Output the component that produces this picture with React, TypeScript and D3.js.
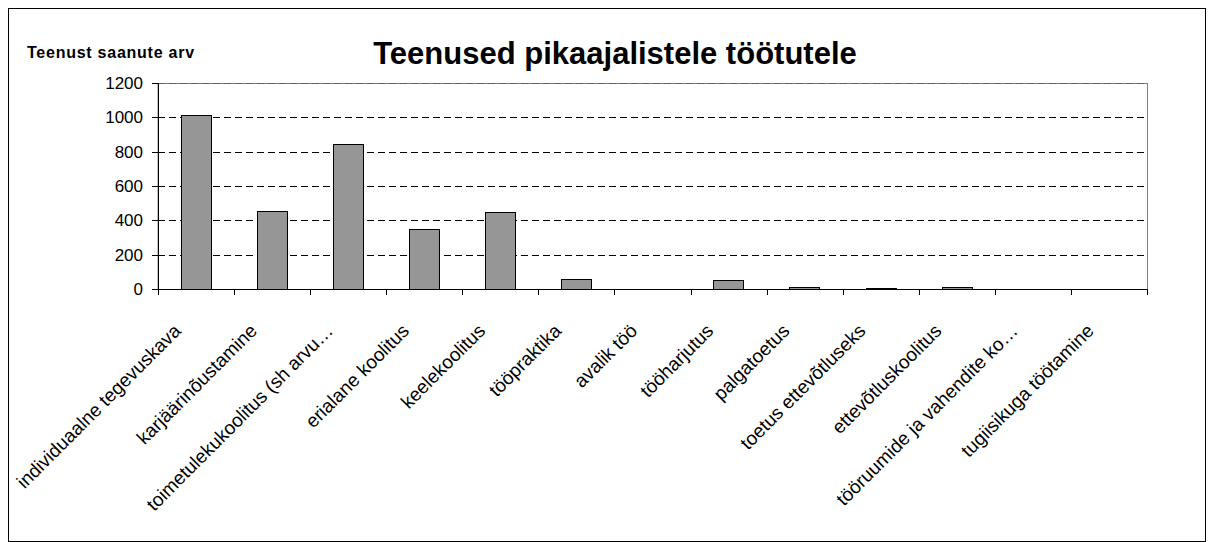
import React from "react";
import * as d3 from "d3";

const categories = [
  "individuaalne tegevuskava",
  "karjäärinõustamine",
  "toimetulekukoolitus (sh arvu…",
  "erialane koolitus",
  "keelekoolitus",
  "tööpraktika",
  "avalik töö",
  "tööharjutus",
  "palgatoetus",
  "toetus ettevõtluseks",
  "ettevõtluskoolitus",
  "tööruumide ja vahendite ko…",
  "tugiisikuga töötamine",
];
const values = [1015, 456, 845, 352, 447, 61, 0, 51, 14, 8, 14, 0, 0];
const yTicks = [0, 200, 400, 600, 800, 1000, 1200];
const titleText = "Teenused pikaajalistele töötutele";
const yLabel = "Teenust saanute arv";

const W = 1214;
const H = 542;
const FONT = "'Liberation Sans', Arial, sans-serif";

export default function App() {
  const left = 158;
  const right = 1147;
  const top = 83;
  const bottom = 289;

  const x = d3.scaleBand<string>().domain(categories).range([left, right]).padding(0);
  const y = d3.scaleLinear().domain([0, 1200]).range([bottom, top]);
  const bw = x.bandwidth() * 0.4;
  const boundaries = categories.map((c) => x(c) as number).concat([right]);

  return (
    <svg
      width={W}
      height={H}
      style={{ position: "absolute", left: 0, top: 0, background: "#fff" }}
    >
      <rect x={0} y={0} width={W} height={H} fill="#fff" />
      <rect x={8.5} y={8.5} width={1197} height={533} fill="none" stroke="#000" strokeWidth={1} />

      <text
        x={615}
        y={64}
        textAnchor="middle"
        fontFamily={FONT}
        fontWeight="bold"
        fontSize={31}
        fill="#000"
      >
        {titleText}
      </text>
      <text
        x={27}
        y={58}
        fontFamily={FONT}
        fontWeight="bold"
        fontSize={16}
        letterSpacing={0.75}
        fill="#000"
      >
        {yLabel}
      </text>

      {/* plot area border */}
      <rect
        x={left}
        y={top + 0.5}
        width={right - left + 0.5}
        height={bottom - top}
        fill="none"
        stroke="#808080"
        strokeWidth={1}
      />

      {/* gridlines */}
      {yTicks
        .filter((t) => t > 0)
        .map((t) => (
          <line
            key={"g" + t}
            x1={left}
            x2={right}
            y1={Math.round(y(t)) + 0.5}
            y2={Math.round(y(t)) + 0.5}
            stroke={t === 1200 ? "#606060" : "#000"}
            strokeWidth={1}
            strokeDasharray="7,4"
          />
        ))}

      {/* bars */}
      {categories.map((c, i) => {
        const cx = (x(c) as number) + x.bandwidth() / 2;
        const y0 = y(0);
        const y1 = y(values[i]);
        return (
          <rect
            key={"b" + i}
            x={Math.round(cx - bw / 2) + 0.5}
            y={Math.round(y1) + 0.5}
            width={Math.round(bw)}
            height={Math.max(0, Math.round(y0) - Math.round(y1))}
            fill="#969696"
            stroke="#000"
            strokeWidth={1}
          />
        );
      })}

      {/* y axis */}
      <line x1={left + 0.5} x2={left + 0.5} y1={top} y2={bottom + 0.5} stroke="#000" />
      {yTicks.map((t) => (
        <g key={"yt" + t}>
          <line
            x1={left - 6}
            x2={left}
            y1={Math.round(y(t)) + 0.5}
            y2={Math.round(y(t)) + 0.5}
            stroke="#000"
          />
          <text
            x={143}
            y={y(t) + 6}
            textAnchor="end"
            fontFamily={FONT}
            fontSize={17}
            fill="#000"
          >
            {t}
          </text>
        </g>
      ))}

      {/* x axis */}
      <line x1={left} x2={right + 0.5} y1={Math.round(bottom) + 0.5} y2={Math.round(bottom) + 0.5} stroke="#000" />
      {boundaries.map((bx, i) => (
        <line
          key={"xt" + i}
          x1={Math.round(bx) + 0.5}
          x2={Math.round(bx) + 0.5}
          y1={bottom}
          y2={bottom + 6}
          stroke="#000"
        />
      ))}
      {categories.map((c, i) => {
        const cx = (x(c) as number) + x.bandwidth() / 2;
        return (
          <text
            key={"xl" + i}
            transform={`translate(${cx - 14},${332}) rotate(-45)`}
            textAnchor="end"
            fontFamily={FONT}
            fontSize={19}
            fill="#000"
          >
            {c}
          </text>
        );
      })}
    </svg>
  );
}
